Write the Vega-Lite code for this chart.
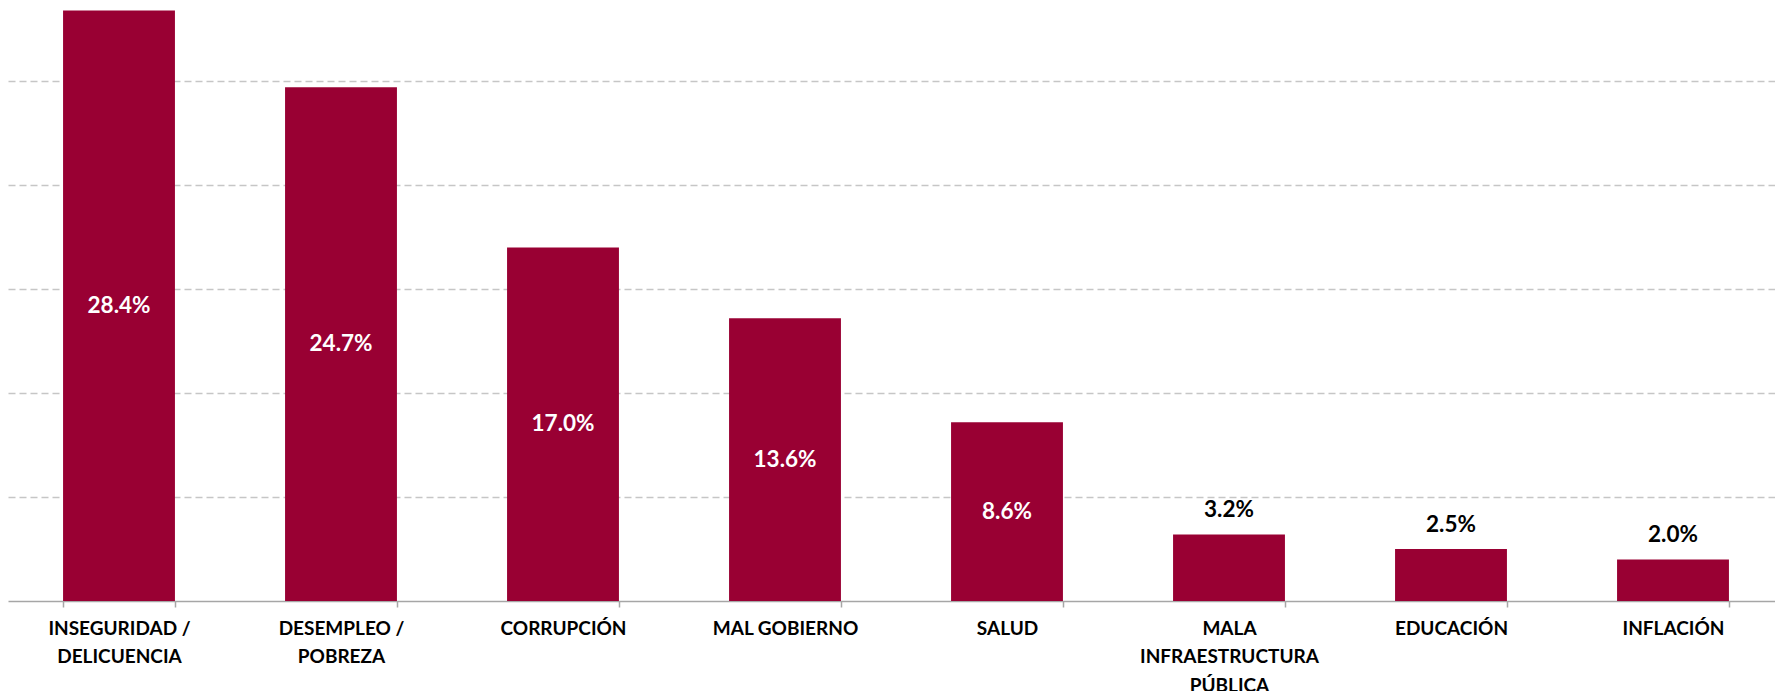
{
  "$schema": "https://vega.github.io/schema/vega-lite/v6.json",
  "padding": {"left": 8, "top": 0, "right": 0, "bottom": 0},
  "background": "white",
  "width": {"step": 222},
  "height": 601,
  "config": {"view": {"stroke": null}, "font": "Lato"},
  "data": {"values": [
    {"category": "INSEGURIDAD /\nDELICUENCIA", "value": 0.284},
    {"category": "DESEMPLEO /\nPOBREZA", "value": 0.247},
    {"category": "CORRUPCIÓN", "value": 0.170},
    {"category": "MAL GOBIERNO", "value": 0.136},
    {"category": "SALUD", "value": 0.086},
    {"category": "MALA\nINFRAESTRUCTURA\nPÚBLICA", "value": 0.032},
    {"category": "EDUCACIÓN", "value": 0.025},
    {"category": "INFLACIÓN", "value": 0.020}
  ]},
  "encoding": {
    "x": {
      "field": "category", "type": "nominal", "sort": null,
      "scale": {"paddingInner": 0.496, "paddingOuter": 0.248},
      "axis": {
        "title": null, "labelAngle": 0, "labelFont": "Lato", "labelFontWeight": "bold",
        "labelFontSize": 19, "labelColor": "#000000", "labelLineHeight": 28.5,
        "labelExpr": "split(datum.label, '\\n')", "labelBaseline": "top",
        "labelPadding": 12, "tickSize": 6, "tickBand": "extent",
        "domainColor": "#a6a6a6", "tickColor": "#a6a6a6", "domainWidth": 1.5, "tickWidth": 1.5,
        "grid": false, "labelLimit": 300
      }
    }
  },
  "layer": [
    {
      "mark": {"type": "bar", "color": "#990033"},
      "encoding": {
        "y": {
          "field": "value", "type": "quantitative",
          "scale": {"domain": [0, 0.289], "nice": false},
          "axis": {"title": null, "labels": false, "ticks": false, "domain": false,
            "grid": true, "values": [0.05, 0.1, 0.15, 0.2, 0.25],
            "gridColor": "#c6c6c6", "gridDash": [7, 4], "gridWidth": 1.3}
        }
      }
    },
    {
      "transform": [{"filter": "datum.value >= 0.05"}],
      "mark": {"type": "text", "color": "white", "font": "Lato", "fontWeight": "bold",
        "fontSize": 22.5, "baseline": "middle", "align": "center"},
      "encoding": {
        "y": {"field": "value", "type": "quantitative",
          "scale": {"domain": [0, 0.578], "nice": false}, "axis": null},
        "text": {"field": "value", "type": "quantitative", "format": ".1%"}
      }
    },
    {
      "transform": [{"filter": "datum.value < 0.05"}],
      "mark": {"type": "text", "color": "black", "font": "Lato", "fontWeight": "bold",
        "fontSize": 22.5, "baseline": "alphabetic", "align": "center", "dy": -17},
      "encoding": {
        "y": {"field": "value", "type": "quantitative",
          "scale": {"domain": [0, 0.289], "nice": false}, "axis": null},
        "text": {"field": "value", "type": "quantitative", "format": ".1%"}
      }
    }
  ],
  "resolve": {"scale": {"y": "independent"}}
}
